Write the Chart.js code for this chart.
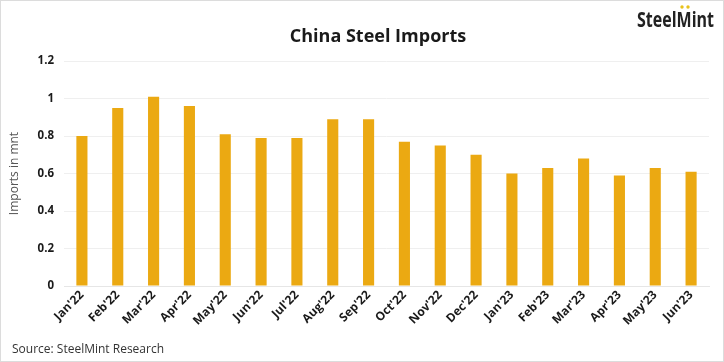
<!DOCTYPE html>
<html><head><meta charset="utf-8">
<script src="https://cdn.jsdelivr.net/npm/chart.js@4.4.0/dist/chart.umd.min.js"></script>
<style>
html,body{margin:0;padding:0;background:#fff;}
#wrap{position:relative;width:724px;height:362px;box-sizing:border-box;border:1px solid #dcdcdc;}
canvas{display:block;}
</style></head>
<body>
<div id="wrap"><canvas id="c" width="722" height="360"></canvas></div>
<script>
const categories = ["Jan'22","Feb'22","Mar'22","Apr'22","May'22","Jun'22","Jul'22","Aug'22","Sep'22","Oct'22","Nov'22","Dec'22","Jan'23","Feb'23","Mar'23","Apr'23","May'23","Jun'23"];
const imports = [0.80,0.95,1.01,0.96,0.81,0.79,0.79,0.89,0.89,0.77,0.75,0.70,0.60,0.63,0.68,0.59,0.63,0.61];
const chartTitle = "China Steel Imports";
const yTitle = "Imports in mnt";
const sourceText = "Source: SteelMint Research";
const brand = "SteelMint";

const textPlugin = {
  id: 'texts',
  afterDraw(chart) {
    const ctx = chart.ctx;
    ctx.save();
    ctx.fillStyle = '#1a1a1a';
    ctx.font = 'bold 18px "Open Sans"';
    ctx.textAlign = 'center';
    ctx.textBaseline = 'middle';
    ctx.fillText(chartTitle, 377, 36);
    ctx.font = '12px "Open Sans"';
    ctx.fillStyle = '#333';
    ctx.textAlign = 'left';
    ctx.fillText(sourceText, 11, 349);
    // brand mark, horizontally condensed
    ctx.font = 'bold 21px "Open Sans"';
    const w = ctx.measureText(brand).width;
    const sx = 77 / w;
    ctx.save();
    ctx.translate(636, 20);
    ctx.scale(sx, 1);
    ctx.fillStyle = '#222';
    ctx.textAlign = 'left';
    ctx.fillText(brand, 0, 0);
    ctx.restore();
    ctx.fillStyle = '#e8c21a';
    ctx.beginPath(); ctx.arc(681, 6, 1.7, 0, Math.PI*2); ctx.fill();
    ctx.beginPath(); ctx.arc(687, 6, 1.7, 0, Math.PI*2); ctx.fill();
    ctx.restore();
  }
};

new Chart(document.getElementById('c'), {
  type: 'bar',
  data: { labels: categories, datasets: [{ data: imports, backgroundColor: '#EBA912', barPercentage: 0.31, categoryPercentage: 1.0 }] },
  options: {
    responsive: false,
    animation: false,
    layout: { padding: { top: 60, right: 14, bottom: 0, left: 6 } },
    plugins: { legend: { display: false }, tooltip: { enabled: false } },
    scales: {
      x: {
        grid: { display: false, drawTicks: false },
        border: { display: true, color: '#e6e6e6' },
        ticks: { minRotation: 45, maxRotation: 45, color: '#1a1a1a', font: { family: '"Open Sans"', weight: 'bold', size: 12 }, padding: 2 },
        afterFit(s) { s.height = 75; }
      },
      y: {
        min: 0, max: 1.2,
        ticks: { stepSize: 0.2, color: '#1a1a1a', font: { family: '"Open Sans"', weight: 'bold', size: 11.5 }, padding: 10,
                 callback: v => String(Number(v.toFixed(1))) },
        grid: { color: '#efefef', drawTicks: false },
        border: { display: false },
        title: { display: true, text: yTitle, color: '#555', font: { family: '"Open Sans"', size: 12 }, padding: { top: 0, bottom: 4 } },
        afterFit(s) { s.width = 57; }
      }
    }
  },
  plugins: [textPlugin]
});
</script>
</body></html>
